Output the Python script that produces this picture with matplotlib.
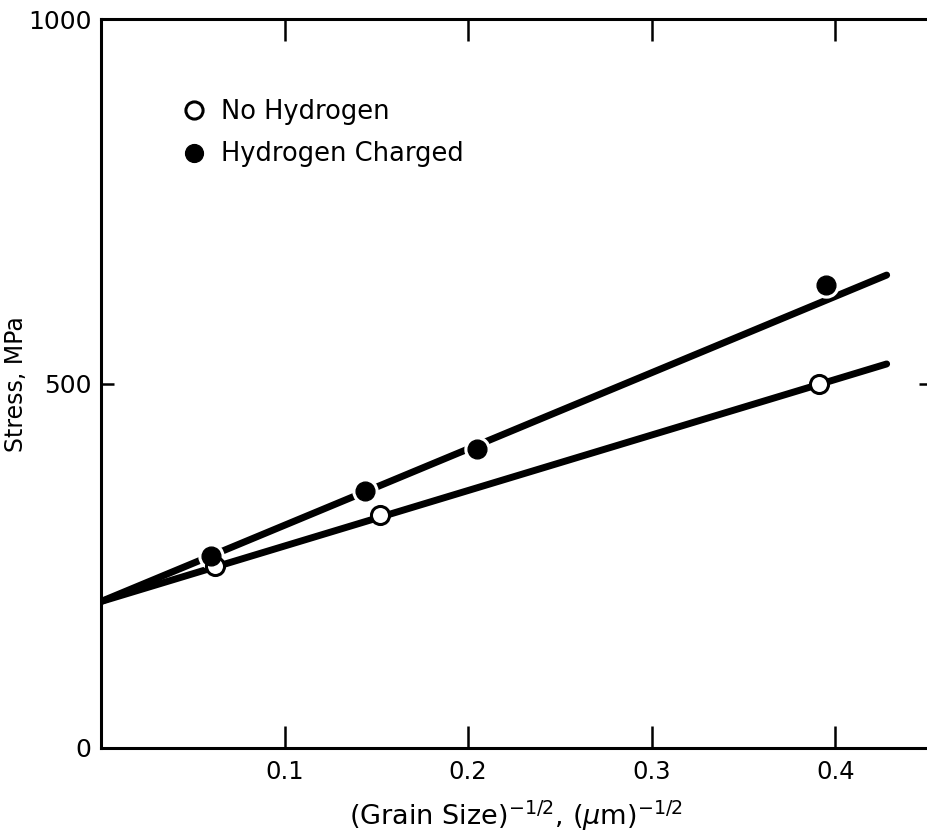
import matplotlib.pyplot as plt
import numpy as np

# data
x_no_h = [0.062, 0.152, 0.391]
y_no_h = [250, 320, 500]

x_h = [0.060, 0.144, 0.205, 0.395]
y_h = [264, 352, 410, 636]

# fitted lines (end points)
fit_x = [0.0, 0.428]
fit_no_h = [201, 527]
fit_h = [201, 649]

xticks = [0.1, 0.2, 0.3, 0.4]
yticks = [0, 500, 1000]

fig = plt.figure(figsize=(9.27, 8.39), dpi=100)
ax = fig.add_axes([0.109, 0.1085, 0.895, 0.8685])

ax.plot(fit_x, fit_no_h, color='black', lw=5, solid_capstyle='round', zorder=2)
ax.plot(fit_x, fit_h, color='black', lw=5, solid_capstyle='round', zorder=2)

# white halo that breaks the line round the filled points
ax.plot(x_h, y_h, 'o', ms=14, mfc='black', mec='white', mew=5, ls='none', zorder=3)
ax.plot(x_no_h, y_no_h, 'o', ms=13, mfc='white', mec='black', mew=2.2, ls='none', zorder=4,
        label='No Hydrogen')
ax.plot(x_h, y_h, 'o', ms=13.5, mfc='black', mec='black', mew=1, ls='none', zorder=5,
        label='Hydrogen Charged')

ax.set_xlim(0, 0.452)
ax.set_ylim(0, 1000)
ax.set_xticks(xticks)
ax.set_xticklabels([f'{t:.1f}' for t in xticks])
ax.set_yticks(yticks)

for side in ['left', 'bottom', 'top']:
    ax.spines[side].set_linewidth(2.2)
ax.spines['right'].set_visible(False)

ax.tick_params(axis='x', direction='in', length=16, width=1.8, top=True,
               labelsize=17.5, pad=9)
ax.tick_params(axis='y', direction='in', length=9, width=1.8, right=True,
               labelsize=18, pad=7)

ax.set_ylabel('Stress, MPa', fontsize=17, labelpad=0)
ax.set_xlabel(r'(Grain Size)$^{-1/2}$, ($\mu$m)$^{-1/2}$', fontsize=19.5, labelpad=10)

ax.legend(loc='upper left', bbox_to_anchor=(0.09, 0.905), frameon=False,
          fontsize=18.5, handlelength=0.6, handletextpad=0.75, labelspacing=0.65,
          markerscale=0.95, borderaxespad=0)

fig.savefig('out.png', dpi=100)
